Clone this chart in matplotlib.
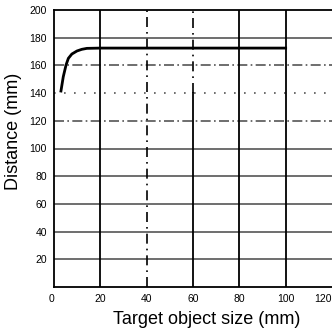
import matplotlib
matplotlib.use('Agg')
import matplotlib.pyplot as plt

# curve
size = [3, 4, 5.2, 6.2, 7.7, 9.9, 12, 14.2, 20, 40, 60, 80, 100]
dist = [141.5, 151.8, 160.3, 165.1, 168.2, 170.4, 171.6, 172.3, 172.5, 172.5, 172.5, 172.5, 172.5]

xticks = [0, 20, 40, 60, 80, 100, 120]
yticks = [20, 40, 60, 80, 100, 120, 140, 160, 180, 200]

plt.rcParams['font.family'] = ['Liberation Sans', 'DejaVu Sans']

fig = plt.figure(figsize=(3.32, 3.35), dpi=100)
ax = fig.add_axes([54/332, 48/335, 278/332, 277/335])

# horizontal grid, styles vary like the scan
hstyle = {120: (0, (6, 2, 1, 2)), 140: (0, (1, 5)), 160: (0, (6, 2, 1, 2))}
for y in yticks[:-1]:
    ax.axhline(y, color='#555555', lw=1.2, ls=hstyle.get(y, '-'), zorder=1)

# vertical grid
ax.axvline(20, color='black', lw=1.3, zorder=1)
ax.axvline(40, color='black', lw=1.2, ls=(0, (6, 3, 1, 3)), zorder=1)
ax.axvline(60, color='black', lw=1.3, ymax=0.7, zorder=1)
ax.axvline(60, color='black', lw=1.2, ymin=0.7, ls=(0, (6, 3, 1, 3)), zorder=1)
ax.axvline(80, color='black', lw=1.3, zorder=1)
ax.axvline(100, color='black', lw=1.3, zorder=1)

ax.plot(size, dist, color='black', lw=2.0, zorder=3)

ax.set_xlim(0, 120)
ax.set_ylim(0, 200)
ax.set_xticks(xticks)
ax.set_yticks(yticks)
ax.tick_params(length=0, labelsize=7.5, pad=5)
ax.get_xticklabels()[-1].set_ha('right')
ax.get_xticklabels()[0].set_ha('right')
ax.spines['right'].set_visible(False)
for s in ['left', 'bottom', 'top']:
    ax.spines[s].set_linewidth(1.3)

fig.text(207/332, 1 - 320/335, 'Target object size (mm)', fontsize=13,
         ha='center', va='center')
fig.text(14/332, 1 - 131/335, 'Distance (mm)', fontsize=13,
         ha='center', va='center', rotation=90)

fig.savefig('out.png', dpi=100)
